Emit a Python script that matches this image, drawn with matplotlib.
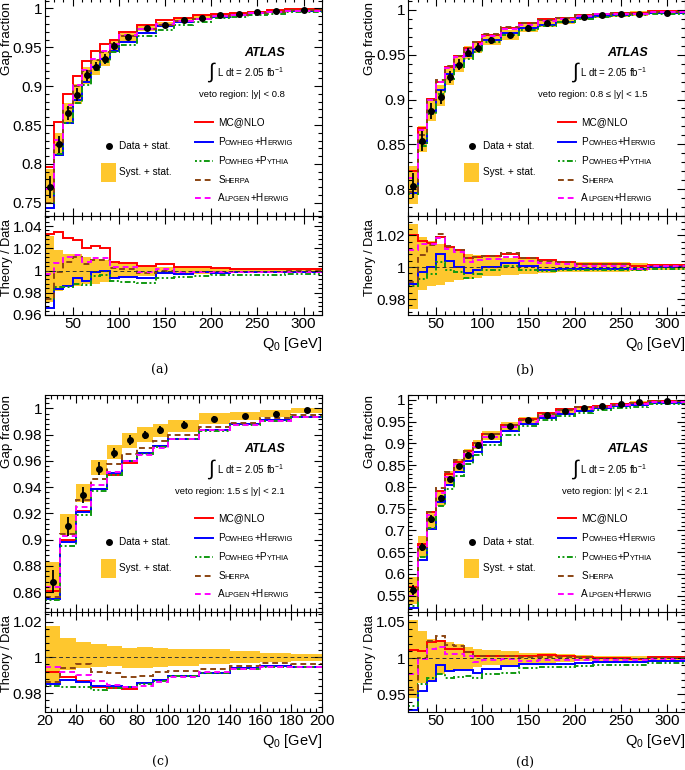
import numpy as np
import matplotlib
matplotlib.use("Agg")
import matplotlib.pyplot as plt
from matplotlib.ticker import MultipleLocator, FuncFormatter
from matplotlib.offsetbox import TextArea, HPacker, AnnotationBbox
from matplotlib.patches import Rectangle

plt.rcParams['font.family'] = ['Liberation Sans', 'DejaVu Sans']
plt.rcParams['mathtext.fontset'] = 'custom'
plt.rcParams['mathtext.rm'] = 'Liberation Sans'
plt.rcParams['mathtext.it'] = 'Liberation Sans:italic'
plt.rcParams['mathtext.bf'] = 'Liberation Sans:bold'

# Q0 bins (GeV)
edges = [20, 30, 40, 50, 60, 70, 80, 90, 100, 120, 140, 160, 180, 200, 220, 240, 260, 280, 320]
centers = [25, 35, 45, 55, 65, 75, 85, 95, 110, 130, 150, 170, 190, 210, 230, 250, 270, 300]
edges_c = edges[:14]
centers_c = centers[:13]

models = ["MC@NLO", "Powheg+Herwig", "Powheg+Pythia", "Sherpa", "Alpgen+Herwig"]

# ---- (a) |y| < 0.8
gap_a = [0.770, 0.825, 0.865, 0.889, 0.914, 0.925, 0.935, 0.952, 0.963, 0.975, 0.979, 0.985,
         0.988, 0.991, 0.993, 0.995, 0.997, 0.998]
stat_a = [0.014, 0.011, 0.009, 0.008, 0.007, 0.006, 0.006, 0.005, 0.004, 0.003, 0.003, 0.002,
          0.002, 0.002, 0.001, 0.001, 0.001, 0.001]
syst_lo_a = [0.972, 0.982, 0.985, 0.986, 0.988, 0.988, 0.990, 0.993, 0.994, 0.9955, 0.9965, 0.997,
             0.997, 0.9975, 0.998, 0.998, 0.998, 0.998]
syst_hi_a = [1.031, 1.018, 1.015, 1.015, 1.012, 1.010, 1.0095, 1.0075, 1.006, 1.0045, 1.0036, 1.003,
             1.003, 1.0025, 1.002, 1.002, 1.002, 1.002]
mcnlo_a = [1.033, 1.035, 1.029, 1.027, 1.020, 1.022, 1.020, 1.008, 1.007, 1.004, 1.006, 1.003,
           1.003, 1.002, 1.001, 1.001, 1.001, 1.001]
powher_a = [0.966, 0.983, 0.986, 0.993, 0.991, 0.999, 1.000, 0.993, 0.994, 0.993, 0.998, 0.997,
            0.999, 0.998, 0.999, 0.999, 0.999, 0.999]
powpyt_a = [0.974, 0.985, 0.985, 0.988, 0.987, 0.995, 0.996, 0.991, 0.990, 0.989, 0.993, 0.994,
            0.995, 0.996, 0.996, 0.996, 0.996, 0.997]
sherpa_a = [0.974, 0.999, 1.008, 1.012, 1.006, 1.009, 1.009, 1.002, 1.001, 0.998, 1.000, 0.999,
            0.999, 0.999, 0.999, 0.999, 0.999, 1.000]
alpgen_a = [0.997, 1.007, 1.012, 1.014, 1.008, 1.011, 1.011, 1.003, 1.003, 0.999, 1.0015, 0.999,
            0.999, 0.999, 0.999, 0.999, 0.999, 0.999]

# ---- (b) 0.8 <= |y| < 1.5
gap_b = [0.804, 0.854, 0.887, 0.903, 0.925, 0.939, 0.952, 0.958, 0.966, 0.972, 0.980, 0.985,
         0.988, 0.992, 0.994, 0.995, 0.996, 0.997]
stat_b = [0.014, 0.011, 0.009, 0.008, 0.007, 0.006, 0.005, 0.005, 0.004, 0.003, 0.003, 0.002,
          0.002, 0.002, 0.001, 0.001, 0.001, 0.001]
syst_lo_b = [0.974, 0.9855, 0.988, 0.9886, 0.9907, 0.9917, 0.9927, 0.9934, 0.9942, 0.9948, 0.9954, 0.996,
             0.9967, 0.997, 0.997, 0.997, 0.9975, 0.998]
syst_hi_b = [1.027, 1.0187, 1.0166, 1.0145, 1.012, 1.0108, 1.008, 1.0077, 1.0066, 1.0058, 1.0052, 1.004,
             1.0033, 1.003, 1.003, 1.003, 1.0025, 1.002]
mcnlo_b = [1.020, 1.0166, 1.015, 1.0187, 1.0124, 1.0108, 1.0058, 1.0062, 1.0068, 1.0083, 1.0056, 1.0046,
           1.0031, 1.002, 1.002, 1.002, 1.001, 1.0015]
powher_b = [0.9896, 0.9969, 1.000, 1.0083, 1.004, 1.000, 0.9963, 0.998, 1.000, 1.0025, 1.0004, 0.9983,
            0.999, 0.999, 0.999, 0.999, 0.999, 1.000]
powpyt_b = [0.988, 0.9927, 0.9959, 1.003, 0.998, 0.9969, 0.9932, 0.9954, 0.998, 1.0006, 0.998, 0.9975,
            0.998, 0.9983, 0.9983, 0.9983, 0.9983, 0.999]
sherpa_b = [0.9907, 1.0073, 1.014, 1.0207, 1.0135, 1.0108, 1.006, 1.0066, 1.007, 1.0087, 1.006, 1.004,
            1.003, 1.002, 1.002, 1.002, 0.999, 1.001]
alpgen_b = [1.0108, 1.0145, 1.0145, 1.018, 1.0114, 1.0093, 1.0035, 1.0046, 1.0052, 1.0066, 1.0037, 1.0027,
            1.002, 1.001, 1.001, 1.001, 0.999, 1.0004]

# ---- (c) 1.5 <= |y| < 2.1
gap_c = [0.868, 0.910, 0.934, 0.954, 0.966, 0.976, 0.980, 0.9835, 0.987, 0.992, 0.994, 0.996, 0.9987]
stat_c = [0.009, 0.007, 0.006, 0.005, 0.004, 0.004, 0.003, 0.003, 0.003, 0.002, 0.002, 0.002, 0.001]
syst_lo_c = [0.9855, 0.993, 0.9939, 0.9948, 0.9952, 0.9939, 0.9939, 0.9948, 0.9952, 0.9962, 0.9968, 0.9975, 0.9981]
syst_hi_c = [1.0175, 1.0106, 1.0087, 1.0073, 1.0065, 1.0054, 1.006, 1.005, 1.0045, 1.0047, 1.0034, 1.0024, 1.0019]
mcnlo_c = [0.992, 0.989, 0.9865, 0.9836, 0.9827, 0.9821, 0.9855, 0.9873, 0.9896, 0.9915, 0.9938, 0.9949, 0.9947]
powher_c = [0.985, 0.9873, 0.9864, 0.984, 0.984, 0.9836, 0.9855, 0.9873, 0.9896, 0.9915, 0.9938, 0.9949, 0.9947]
powpyt_c = [0.984, 0.9836, 0.9836, 0.9818, 0.9827, 0.9833, 0.9851, 0.987, 0.9896, 0.991, 0.9935, 0.9945, 0.9945]
sherpa_c = [0.9864, 0.9939, 0.9961, 0.992, 0.9911, 0.9888, 0.9896, 0.9916, 0.9926, 0.9934, 0.9949, 0.9968, 0.9962]
alpgen_c = [0.9948, 0.992, 0.9901, 0.9868, 0.9846, 0.9833, 0.984, 0.9864, 0.9892, 0.9916, 0.9934, 0.9947, 0.9944]

# ---- (d) |y| < 2.1
gap_d = [0.5626, 0.6618, 0.7252, 0.7733, 0.8183, 0.8473, 0.874, 0.897, 0.9176, 0.9389, 0.9527, 0.9656,
         0.9748, 0.981, 0.9855, 0.990, 0.9939, 0.9962]
stat_d = [0.012, 0.010, 0.009, 0.008, 0.007, 0.006, 0.006, 0.005, 0.004, 0.004, 0.003, 0.003,
          0.002, 0.002, 0.002, 0.001, 0.001, 0.001]
syst_lo_d = [0.945, 0.965, 0.9687, 0.9776, 0.9826, 0.9836, 0.985, 0.9876, 0.990, 0.991, 0.9925, 0.9935,
             0.995, 0.996, 0.9965, 0.9965, 0.9965, 0.9975]
syst_hi_d = [1.053, 1.037, 1.027, 1.025, 1.022, 1.020, 1.015, 1.0124, 1.0114, 1.010, 1.0075, 1.0065,
             1.005, 1.004, 1.0035, 1.0035, 1.0035, 1.0025]
mcnlo_d = [1.0114, 1.010, 1.022, 1.0234, 1.0124, 1.0124, 1.0085, 1.0035, 1.0035, 1.0035, 1.0025, 1.004,
           1.0035, 1.0015, 1.000, 1.000, 0.999, 1.001]
powher_d = [0.928, 0.955, 0.9687, 0.990, 0.9816, 0.9836, 0.9836, 0.980, 0.9851, 0.9886, 0.9915, 0.9915,
            0.9925, 0.9935, 0.995, 0.995, 0.995, 0.996]
powpyt_d = [0.934, 0.9637, 0.9726, 0.9776, 0.9726, 0.9736, 0.9751, 0.9726, 0.9776, 0.980, 0.9866, 0.9876,
            0.9876, 0.9886, 0.990, 0.990, 0.990, 0.9935]
sherpa_d = [0.956, 1.000, 1.0234, 1.031, 1.0184, 1.0164, 1.0085, 1.0035, 1.0035, 1.0025, 1.0015, 1.0015,
            1.0015, 1.0015, 0.999, 0.999, 0.999, 1.000]
alpgen_d = [0.9776, 0.9985, 1.0124, 1.015, 1.005, 1.005, 1.0025, 0.995, 0.9975, 0.9985, 0.9965, 0.9975,
            0.9975, 0.9975, 0.9975, 0.9975, 0.9975, 0.9985]

colors = ["#ff0000", "#0000ff", "#119911", "#8b4513", "#ff00ff"]
styles = ["-", "-", (0, (1, 1.3, 1, 1.3, 3, 1.3)), (0, (3, 2)), (0, (3, 2))]
yellow = "#fec72e"

W, H = 685, 770
fig = plt.figure(figsize=(W / 100, H / 100), dpi=100)

fmt = FuncFormatter(lambda v, p: "%g" % round(v, 4))


def frame(ax, xmaj, xmin, ymaj, ymin):
    ax.xaxis.set_major_locator(MultipleLocator(xmaj))
    ax.xaxis.set_minor_locator(MultipleLocator(xmin))
    ax.yaxis.set_major_locator(MultipleLocator(ymaj))
    ax.yaxis.set_minor_locator(MultipleLocator(ymin))
    ax.yaxis.set_major_formatter(fmt)
    ax.tick_params(which='both', direction='in', top=True, right=True, labelsize=11, width=0.8)
    ax.tick_params(which='major', length=6)
    ax.tick_params(which='minor', length=3)
    ax.tick_params(axis='y', pad=2)
    ax.tick_params(axis='x', pad=1.5)
    for s in ax.spines.values():
        s.set_linewidth(0.8)


def smallcaps(ax, x, y, label, size=7.2):
    groups = []
    for ch in label:
        big = not ch.islower()
        if groups and groups[-1][1] == big:
            groups[-1][0] += ch
        else:
            groups.append([ch, big])
    kids = [TextArea(t.upper(), textprops=dict(fontsize=size if b else size * 0.75)) for t, b in groups]
    box = HPacker(children=kids, align='baseline', pad=0, sep=0)
    ax.add_artist(AnnotationBbox(box, (x, y), xycoords='axes fraction', box_alignment=(0, 0.5),
                                 frameon=False, pad=0))


def panel(col, row, edg, x, gap, stat, lo, hi, curves, ylim, rlim, ymaj, ymin, rmaj, rmin,
          xmaj, xmin, veto, tag):
    left = 45 if col == 0 else 408.3
    width = 277
    top = -1.7 if row == 0 else 395
    mid = 216 if row == 0 else 611.7
    bot = 315 if row == 0 else 711.7
    axm = fig.add_axes([left / W, 1 - mid / H, width / W, (mid - top) / H])
    axr = fig.add_axes([left / W, 1 - bot / H, width / W, (bot - mid) / H])

    gap = np.array(gap)
    # main panel
    axm.stairs(np.array(hi) * gap, edg, baseline=np.array(lo) * gap, fill=True, color=yellow, lw=0)
    for r, c, ls in zip(curves, colors, styles):
        axm.stairs(np.array(r) * gap, edg, baseline=None, color=c, ls=ls, lw=1.4)
    axm.errorbar(x, gap, yerr=stat, fmt='o', color='k', ms=4, elinewidth=1.3, capsize=0, zorder=5)
    axm.set_xlim(edg[0], edg[-1])
    axm.set_ylim(*ylim)
    frame(axm, xmaj, xmin, ymaj, ymin)
    axm.tick_params(labelbottom=False)
    ytop = 0.985 if row == 0 else 1.0
    axm.text(-0.138, ytop, "Gap fraction", rotation=90, ha='center', va='top', fontsize=9.6,
             transform=axm.transAxes)

    # labels inside main panel
    axm.text(0.866, 0.75, "ATLAS", ha='right', va='center', fontsize=9, fontweight='bold',
             style='italic', transform=axm.transAxes)
    lumi = HPacker(children=[TextArea("\u222b", textprops=dict(fontsize=15)),
                             TextArea("L dt = 2.05 fb$^{-1}$", textprops=dict(fontsize=7))],
                   align='center', pad=0, sep=2)
    axm.add_artist(AnnotationBbox(lumi, (0.862, 0.66), xycoords='axes fraction',
                                  box_alignment=(1, 0.5), frameon=False, pad=0))
    axm.text(0.865, 0.556, veto, ha='right', va='center', fontsize=6.8, transform=axm.transAxes)

    axm.plot([0.23], [0.322], 'o', color='k', ms=4, transform=axm.transAxes)
    axm.text(0.268, 0.322, "Data + stat.", fontsize=7.2, va='center', transform=axm.transAxes)
    axm.add_patch(Rectangle((0.202, 0.157), 0.055, 0.088, transform=axm.transAxes,
                            color=yellow, lw=0))
    axm.text(0.268, 0.2, "Syst. + stat.", fontsize=7.2, va='center', transform=axm.transAxes)
    for name, c, ls, yy in zip(models, colors, styles, [0.432, 0.340, 0.253, 0.167, 0.082]):
        axm.plot([0.542, 0.606], [yy, yy], color=c, ls=ls, lw=1.4, transform=axm.transAxes)
        smallcaps(axm, 0.625, yy, name)

    # ratio panel
    axr.stairs(hi, edg, baseline=lo, fill=True, color=yellow, lw=0)
    axr.axhline(1, color='#333333', ls=(0, (4, 3)), lw=0.7)
    for r, c, ls in zip(curves, colors, styles):
        axr.stairs(r, edg, baseline=None, color=c, ls=ls, lw=1.4)
    axr.set_xlim(edg[0], edg[-1])
    axr.set_ylim(*rlim)
    frame(axr, xmaj, xmin, rmaj, rmin)
    axr.text(-0.138, 0.97, "Theory / Data", rotation=90, ha='center', va='top', fontsize=9.2,
             transform=axr.transAxes)
    axr.text(1.0, -0.29, "Q$_0$ [GeV]", ha='right', va='center', fontsize=10.5,
             transform=axr.transAxes)
    cy = 370 if row == 0 else 762.5
    cx = 160 if col == 0 else 525
    fig.text(cx / W, 1 - cy / H, tag, ha='center', va='center', fontsize=9, family='DejaVu Serif')


panel(0, 0, edges, centers, gap_a, stat_a, syst_lo_a, syst_hi_a,
      [mcnlo_a, powher_a, powpyt_a, sherpa_a, alpgen_a],
      (0.733, 1.013), (0.96, 1.049), 0.05, 0.01, 0.02, 0.004, 50, 10,
      "veto region: |y| < 0.8", "(a)")
panel(1, 0, edges, centers, gap_b, stat_b, syst_lo_b, syst_hi_b,
      [mcnlo_b, powher_b, powpyt_b, sherpa_b, alpgen_b],
      (0.770, 1.013), (0.970, 1.032), 0.05, 0.01, 0.02, 0.004, 50, 10,
      "veto region: 0.8 \u2264 |y| < 1.5", "(b)")
panel(0, 1, edges_c, centers_c, gap_c, stat_c, syst_lo_c, syst_hi_c,
      [mcnlo_c, powher_c, powpyt_c, sherpa_c, alpgen_c],
      (0.845, 1.0102), (0.9696, 1.0255), 0.02, 0.004, 0.02, 0.004, 20, 4,
      "veto region: 1.5 \u2264 |y| < 2.1", "(c)")
panel(1, 1, edges, centers, gap_d, stat_d, syst_lo_d, syst_hi_d,
      [mcnlo_d, powher_d, powpyt_d, sherpa_d, alpgen_d],
      (0.513, 1.011), (0.926, 1.064), 0.05, 0.01, 0.05, 0.01, 50, 10,
      "veto region: |y| < 2.1", "(d)")

fig.savefig("out.png", dpi=100)
